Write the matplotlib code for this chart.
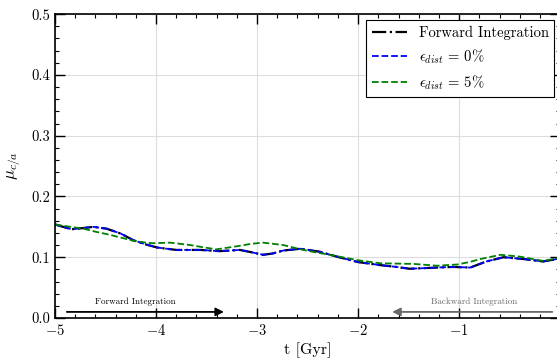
import numpy as np
import matplotlib
matplotlib.use("Agg")
import matplotlib.pyplot as plt

plt.rcParams.update({
    "font.family": "serif",
    "font.serif": ["cmr10", "DejaVu Serif"],
    "mathtext.fontset": "cm",
    "axes.formatter.use_mathtext": True,
    "font.size": 10,
})

# time in Gyr
t_fwd = [-5.0, -4.92, -4.835, -4.72, -4.62, -4.49, -4.35, -4.225, -4.1, -3.99, -3.8,
         -3.56, -3.37, -3.17, -3.05, -2.94, -2.85, -2.74, -2.57, -2.38, -2.19, -2.0,
         -1.78, -1.62, -1.49, -1.35, -1.22, -1.06, -0.89, -0.73, -0.56, -0.36, -0.17, 0.0]
mu_fwd = [0.154, 0.150, 0.146, 0.148, 0.150, 0.147, 0.139, 0.128, 0.121, 0.116, 0.112,
          0.112, 0.110, 0.112, 0.108, 0.104, 0.106, 0.111, 0.114, 0.109, 0.100, 0.092,
          0.087, 0.084, 0.081, 0.082, 0.083, 0.084, 0.083, 0.093, 0.100, 0.097, 0.093, 0.098]
mu_dist0 = list(mu_fwd)

t_dist5 = [-5.0, -4.85, -4.72, -4.6, -4.46, -4.34, -4.225, -4.1, -4.03, -3.86, -3.66,
           -3.52, -3.40, -3.20, -3.06, -2.94, -2.74, -2.57, -2.42, -2.28, -2.0, -1.78,
           -1.45, -1.22, -1.02, -0.9, -0.79, -0.59, -0.4, -0.17, 0.0]
mu_dist5 = [0.154, 0.150, 0.147, 0.142, 0.137, 0.132, 0.127, 0.124, 0.123, 0.124, 0.120,
            0.116, 0.113, 0.118, 0.122, 0.124, 0.120, 0.113, 0.108, 0.104, 0.095, 0.090,
            0.089, 0.086, 0.088, 0.092, 0.097, 0.104, 0.101, 0.094, 0.099]

fig = plt.figure(figsize=(5.57, 3.6), dpi=100)
ax = fig.add_axes([0.0987, 0.1167, 0.907, 0.844])

ax.plot(t_fwd, mu_fwd, color="black", ls="-.", lw=1.6, label="Forward Integration")
ax.plot(t_fwd, mu_dist0, color="blue", ls="--", lw=1.3, label=r"$\epsilon_{dist}\, =\, 0\%$")
ax.plot(t_dist5, mu_dist5, color="green", ls="--", lw=1.3, label=r"$\epsilon_{dist}\, =\, 5\%$")

# integration direction arrows
ax.annotate("", xy=(-3.30, 0.01), xytext=(-4.91, 0.01),
            arrowprops=dict(arrowstyle="-|>", color="black", lw=1.3, mutation_scale=12))
ax.text(-4.2, 0.019, "Forward Integration", fontsize=6.5, ha="center", va="bottom")
ax.annotate("", xy=(-1.69, 0.01), xytext=(-0.05, 0.01),
            arrowprops=dict(arrowstyle="-|>", color="dimgray", lw=1.3, mutation_scale=12))
ax.text(-0.85, 0.019, "Backward Integration", fontsize=6.5, ha="center", va="bottom",
        color="dimgray")

ax.set_xlim(-5, 0)
ax.set_ylim(0, 0.5)
ax.set_xticks([-5, -4, -3, -2, -1, 0])
ax.set_yticks([0.0, 0.1, 0.2, 0.3, 0.4, 0.5])
ax.set_yticklabels(["0.0", "0.1", "0.2", "0.3", "0.4", "0.5"])
ax.minorticks_on()
ax.tick_params(which="both", direction="in", top=True, right=True, labelsize=10.5)
ax.tick_params(which="major", length=7, width=1)
ax.tick_params(which="minor", length=3, width=0.8)
ax.grid(True, which="major", color="#dddddd", lw=0.8)
for s in ax.spines.values():
    s.set_linewidth(1.2)

ax.set_xlabel("t [Gyr]", fontsize=11.5, labelpad=3)
ax.set_ylabel(r"$\mu_{c/a}$", fontsize=12, labelpad=6)

leg = ax.legend(loc="upper right", fancybox=False, edgecolor="black", fontsize=10.5,
                framealpha=1, borderaxespad=0.4, handlelength=2.4)
leg.get_frame().set_linewidth(0.8)

fig.savefig("out.png", dpi=100)
